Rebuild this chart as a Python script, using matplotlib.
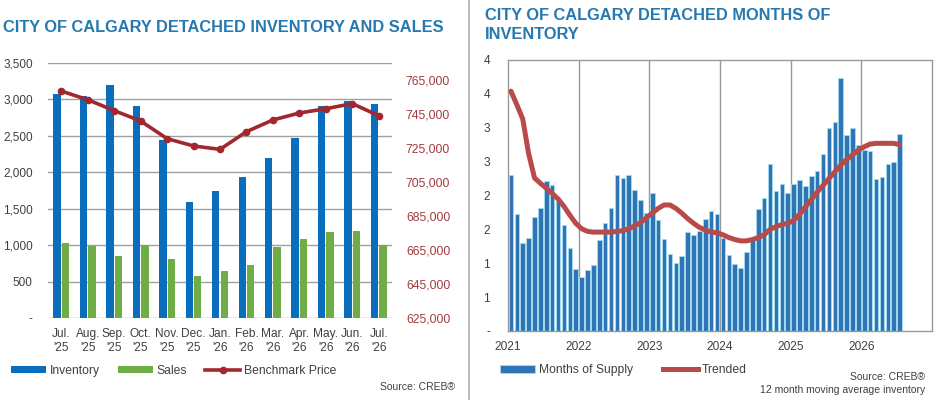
import numpy as np
import matplotlib
matplotlib.use("Agg")
import matplotlib.pyplot as plt
from matplotlib.patches import Patch
from matplotlib.lines import Line2D

plt.rcParams['font.family'] = ['Liberation Sans', 'DejaVu Sans']

# ---------------- data: left chart ----------------
months = ["Jul.\n'25", "Aug.\n'25", "Sep.\n'25", "Oct.\n'25", "Nov.\n'25", "Dec.\n'25",
          "Jan.\n'26", "Feb.\n'26", "Mar.\n'26", "Apr.\n'26", "May.\n'26", "Jun.\n'26", "Jul.\n'26"]
inventory = [3080, 3050, 3200, 2910, 2445, 1590, 1750, 1940, 2190, 2465, 2910, 2980, 2935]
sales = [1030, 990, 855, 1000, 815, 575, 650, 730, 970, 1085, 1185, 1195, 1005]
benchmark = [758500, 753400, 747000, 740900, 730500, 726200, 724200, 734600, 741500,
             745600, 748100, 751100, 744000]
left_yticks = [0, 500, 1000, 1500, 2000, 2500, 3000, 3500]
right_yticks = [625000, 645000, 665000, 685000, 705000, 725000, 745000, 765000]

# ---------------- data: right chart ----------------
years = ["2021", "2022", "2023", "2024", "2025", "2026"]
months_supply = [2.30, 1.72, 1.30, 1.37, 1.69, 1.81, 2.21, 2.15, 1.95, 1.56, 1.23, 0.91,
                 0.79, 0.90, 0.98, 1.34, 1.59, 1.81, 2.30, 2.26, 2.30, 2.08, 1.93, 1.74,
                 2.04, 1.64, 1.36, 1.14, 1.01, 1.10, 1.46, 1.41, 1.48, 1.65, 1.77, 1.73,
                 1.38, 1.12, 0.99, 0.93, 1.17, 1.34, 1.80, 1.97, 2.46, 2.07, 2.17, 2.04,
                 2.17, 2.23, 2.14, 2.29, 2.36, 2.61, 3.00, 3.08, 3.74, 2.90, 2.99, 2.75,
                 2.67, 2.65, 2.25, 2.27, 2.46, 2.49, 2.91]
trended = [3.54, 3.34, 3.13, 2.62, 2.26, 2.18, 2.11, 2.03, 1.95, 1.84, 1.71, 1.59,
           1.51, 1.47, 1.46, 1.46, 1.46, 1.46, 1.47, 1.48, 1.51, 1.55, 1.60, 1.67,
           1.74, 1.81, 1.86, 1.86, 1.81, 1.74, 1.66, 1.59, 1.53, 1.49, 1.46, 1.45,
           1.42, 1.38, 1.35, 1.33, 1.33, 1.35, 1.38, 1.42, 1.50, 1.54, 1.57, 1.59,
           1.63, 1.72, 1.83, 1.94, 2.05, 2.15, 2.25, 2.35, 2.45, 2.53, 2.60, 2.67,
           2.72, 2.76, 2.77, 2.77, 2.77, 2.77, 2.75]
mos_yticks = [0, 0.5, 1, 1.5, 2, 2.5, 3, 3.5, 4]
mos_ylabels = ["-", "1", "1", "2", "2", "3", "3", "4", "4"]

W, H = 943, 400
fig = plt.figure(figsize=(W / 100, H / 100), dpi=100)

def fx(px):
    return px / W

def fy(py):
    return 1 - py / H

TITLE_C = '#2678B0'
TXT_C = '#404040'
GRID_C = '#A0A0A0'
BLUE = '#0A6EBD'
GREEN = '#70AD47'
RED = '#A0282E'
RED_TXT = '#A33B3F'

# ---------------- left chart ----------------
axL = fig.add_axes([fx(48), fy(318), fx(392) - fx(48), fy(63) - fy(318)])
x = np.arange(len(months))
bw = 0.28
axL.bar(x - bw / 2 - 0.02, inventory, width=bw, color=BLUE, zorder=2)
axL.bar(x + bw / 2 + 0.02, sales, width=bw, color=GREEN, zorder=2)
axL.set_xlim(-0.5, len(months) - 0.5)
axL.set_ylim(0, 3500)
axL.set_yticks(left_yticks)
axL.set_yticklabels(['-' if v == 0 else f'{v:,}' for v in left_yticks])
axL.yaxis.grid(True, color=GRID_C, linewidth=1.0, zorder=0)
axL.set_axisbelow(True)
for s in axL.spines.values():
    s.set_visible(False)
axL.tick_params(axis='both', length=0, labelsize=8.6, colors=TXT_C)
axL.tick_params(axis='y', pad=11, labelsize=8.5)
axL.set_xticks(x)
axL.set_xticklabels(months, linespacing=1.3)
axL.tick_params(axis='x', pad=7)

axR = axL.twinx()
axR.plot(x, benchmark, color=RED, linewidth=2.6, marker='o', markersize=4.5, zorder=3)
axR.set_ylim(625000, 775000)
axR.set_yticks(right_yticks)
axR.set_yticklabels([f'{v:,}' for v in right_yticks])
for s in axR.spines.values():
    s.set_visible(False)
axR.tick_params(axis='y', length=0, labelsize=8.8, colors=RED_TXT, pad=10)

fig.text(fx(3), fy(27), "CITY OF CALGARY DETACHED INVENTORY AND SALES", color=TITLE_C,
         fontsize=11.8, fontweight='bold', va='center', ha='left')

handlesL = [Patch(facecolor=BLUE, edgecolor='none'),
            Patch(facecolor=GREEN, edgecolor='none'),
            Line2D([0], [0], color=RED, linewidth=2.6, marker='o', markersize=4.5)]
fig.legend(handlesL, ['Inventory', 'Sales', 'Benchmark Price'], loc='center left',
           bbox_to_anchor=(fx(11), fy(371)), ncol=3, frameon=False, fontsize=8.7,
           handlelength=2.9, handleheight=0.55, handletextpad=0.3, columnspacing=1.5,
           labelcolor=TXT_C, borderaxespad=0, borderpad=0)
fig.text(fx(455), fy(387), "Source: CREB®", color=TXT_C, fontsize=7.5, ha='right', va='center')

# divider
fig.add_artist(Line2D([fx(469), fx(469)], [0, 1], color='#B0B0B0', linewidth=1.2))

# ---------------- right chart ----------------
ax2 = fig.add_axes([fx(508), fy(331), fx(932) - fx(508), fy(60) - fy(331)])
xm = np.arange(len(months_supply)) + 0.5
ax2.bar(xm, months_supply, width=0.78, color='#2E75B6', edgecolor='#A6DCEF',
        linewidth=0.6, zorder=2)
ax2.plot(xm, trended, color='#B84B49', linewidth=3.6, solid_capstyle='round', zorder=3)
ax2.set_xlim(0, 72)
ax2.set_ylim(0, 4)
ax2.set_yticks(mos_yticks)
ax2.set_yticklabels(mos_ylabels)
ax2.set_xticks([0, 12, 24, 36, 48, 60])
ax2.set_xticklabels(years)
for xv in [12, 24, 36, 48, 60]:
    ax2.axvline(xv, color='#999999', linewidth=1.0, zorder=1)
for s in ax2.spines.values():
    s.set_color('#999999')
    s.set_linewidth(1.0)
ax2.tick_params(axis='both', length=0, labelsize=8.6, colors=TXT_C)
ax2.tick_params(axis='y', pad=13)
ax2.tick_params(axis='x', pad=7)

fig.text(fx(485), fy(8), "CITY OF CALGARY DETACHED MONTHS OF\nINVENTORY", color=TITLE_C,
         fontsize=11.8, fontweight='bold', va='top', ha='left', linespacing=1.35)

handlesR = [Patch(facecolor='#2E75B6', edgecolor='#A6DCEF', linewidth=0.6),
            Line2D([0], [0], color='#B84B49', linewidth=3.6)]
fig.legend(handlesR, ['Months of Supply', 'Trended'], loc='center left',
           bbox_to_anchor=(fx(500), fy(370)), ncol=2, frameon=False, fontsize=8.7,
           handlelength=2.9, handleheight=0.7, handletextpad=0.3, columnspacing=2.5,
           labelcolor=TXT_C, borderaxespad=0, borderpad=0)
fig.text(fx(925), fy(377), "Source: CREB®", color=TXT_C, fontsize=7.5, ha='right', va='center')
fig.text(fx(925), fy(390), "12 month moving average inventory", color=TXT_C, fontsize=7.5,
         ha='right', va='center')

fig.savefig("out.png", dpi=100)
